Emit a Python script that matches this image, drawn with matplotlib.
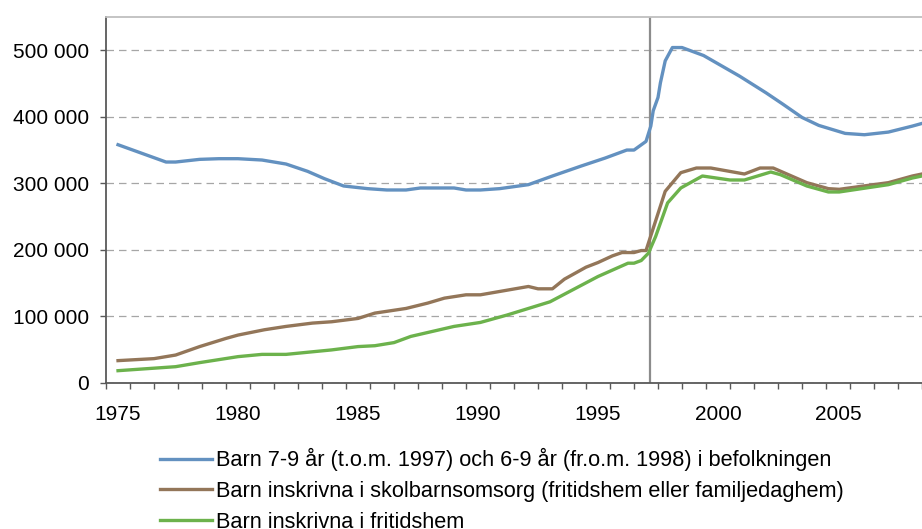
import numpy as np
import matplotlib
matplotlib.use("Agg")
from matplotlib import pyplot as plt
from matplotlib.ticker import FuncFormatter, MultipleLocator

plt.rcParams['font.family'] = ['Liberation Sans', 'DejaVu Sans']

# Barn 7-9 år / 6-9 år i befolkningen
blue_x = [1975.0, 1977.0, 1977.4, 1978.4, 1979.2, 1980.0, 1981.0, 1982.0, 1982.9, 1983.6,
          1984.4, 1985.4, 1986.2, 1987.0, 1987.6, 1989.0, 1989.5, 1990.1, 1990.9, 1992.1,
          1993.1, 1994.3, 1995.3, 1996.2, 1996.5, 1997.0, 1997.2, 1997.3, 1997.5, 1997.6,
          1997.8, 1998.1, 1998.5, 1999.4, 2000.9, 2002.0, 2002.7, 2003.5, 2004.2, 2005.3,
          2006.1, 2007.1, 2008.1, 2008.5]
blue_y = [358, 332, 332, 336, 337, 337, 335, 329, 318, 307,
          296, 292, 290, 290, 293, 293, 290, 290, 292, 298,
          311, 326, 338, 350, 350, 363, 386, 409, 429, 451,
          484, 504, 504, 492, 461, 436, 419, 399, 387, 375,
          373, 377, 386, 390]

# Barn inskrivna i skolbarnsomsorg
brown_x = [1975.0, 1976.5, 1977.4, 1978.4, 1979.5, 1980.0, 1981.1, 1982.0, 1983.1, 1983.9,
           1985.0, 1985.7, 1987.0, 1987.9, 1988.6, 1989.5, 1990.1, 1991.3, 1992.1, 1992.5,
           1993.1, 1993.6, 1994.5, 1995.0, 1995.6, 1996.0, 1996.5, 1996.8, 1997.0, 1997.8,
           1998.45, 1999.1, 1999.7, 2001.1, 2001.75, 2002.3, 2003.7, 2004.6, 2005.05, 2007.1,
           2008.1, 2008.5]
brown_y = [33.6, 36.6, 42, 54.7, 67, 72, 80, 85, 90, 92,
           97, 105, 112, 120, 127.5, 132.5, 132.5, 140, 145, 141.5,
           141.5, 156, 174, 181, 191, 196, 196, 199, 199, 288,
           316, 323, 323, 314, 323, 323, 301, 292, 291, 301,
           311, 314]

# Barn inskrivna i fritidshem
green_x = [1975.0, 1977.4, 1978.4, 1980.0, 1981.0, 1982.0, 1983.9, 1985.0, 1985.7, 1986.5,
           1987.2, 1989.0, 1990.1, 1991.2, 1993.0, 1995.0, 1996.25, 1996.5, 1996.8, 1997.1,
           1997.4, 1997.9, 1998.45, 1999.35, 2000.5, 2001.1, 2002.2, 2002.6, 2003.7, 2004.6,
           2005.05, 2007.1, 2008.1, 2008.5]
green_y = [18.5, 24.5, 30.6, 39.6, 43, 43, 49.7, 54.7, 56, 60.7,
           70, 85, 91, 102, 122, 160, 180, 180, 184, 195,
           220, 270.6, 293, 311, 305, 305, 317, 313, 296, 287,
           287, 298, 308, 311]

labels = ["Barn 7-9 år (t.o.m. 1997) och 6-9 år (fr.o.m. 1998) i befolkningen",
          "Barn inskrivna i skolbarnsomsorg (fritidshem eller familjedaghem)",
          "Barn inskrivna i fritidshem"]
year_labels = [1975, 1980, 1985, 1990, 1995, 2000, 2005]

fig = plt.figure(figsize=(9.22, 5.29), dpi=100)
ax = fig.add_axes([0.115, 0.276, 0.885, 0.692])

ax.plot(blue_x, np.array(blue_y) * 1000, color='#6391C0', lw=2.4, label=labels[0])
ax.plot(brown_x, np.array(brown_y) * 1000, color='#937659', lw=2.4, label=labels[1])
ax.plot(green_x, np.array(green_y) * 1000, color='#6CB24C', lw=2.4, label=labels[2])

# reformen 1997/1998
ax.axvline(1997.17, color='#8C8C8C', lw=1.6, zorder=1)

ax.set_xlim(1974.5, 2008.15)
ax.set_ylim(0, 550000)

ax.yaxis.set_major_locator(MultipleLocator(100000))
ax.yaxis.set_major_formatter(FuncFormatter(lambda v, p: f"{int(v):,}".replace(",", " ")))
ax.grid(axis='y', color='#A6A6A6', ls=(0, (6, 4)), lw=0.9)
ax.set_axisbelow(True)

ax.set_xticks(year_labels)
ax.set_xticks(np.arange(1974.5, 2009, 1), minor=True)
ax.tick_params(axis='x', which='major', length=0, pad=16, labelsize=15)
ax.tick_params(axis='x', which='minor', length=4, width=1, color='#595959')
ax.tick_params(axis='y', length=4.5, width=1, color='#595959', pad=8, labelsize=15)

for s in ['left', 'bottom']:
    ax.spines[s].set_color('#595959')
    ax.spines[s].set_linewidth(1.3)
ax.spines['top'].set_color('#BFBFBF')
ax.spines['top'].set_linewidth(1.3)
ax.spines['right'].set_visible(False)

fig.legend(loc='upper left', bbox_to_anchor=(0.1735, 0.153), frameon=False,
           fontsize=15.7, handlelength=2.37, handletextpad=0.22, labelspacing=0.45,
           borderaxespad=0, borderpad=0)

fig.savefig("out.png", dpi=100)
